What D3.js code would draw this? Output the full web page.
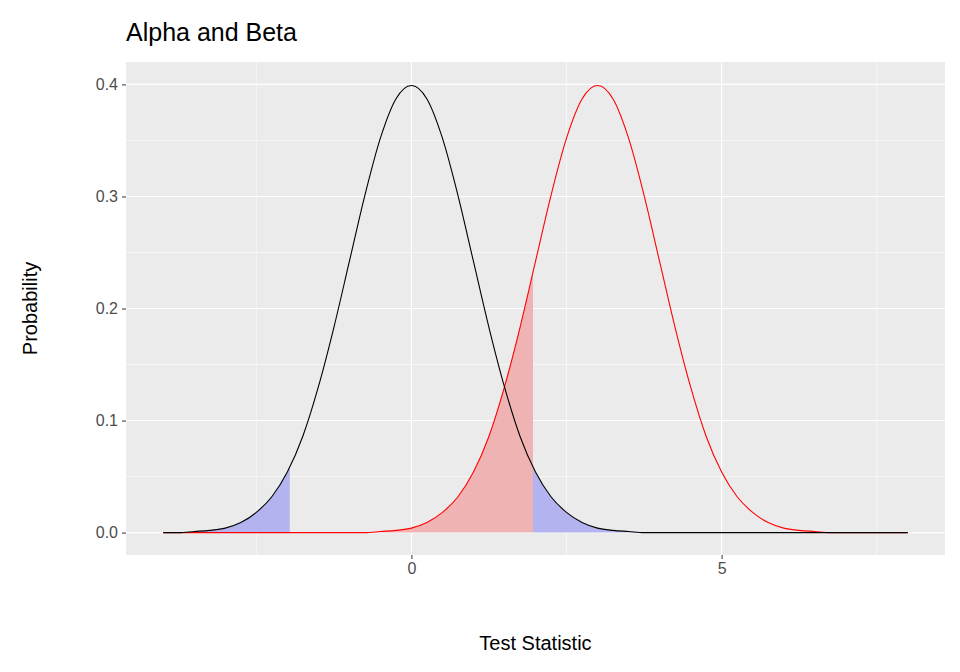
<!DOCTYPE html>
<html>
<head>
<meta charset="utf-8">
<script src="https://cdn.jsdelivr.net/npm/d3@7"></script>
<style>
  body { margin: 0; background: #fff; }
  text { font-family: "Liberation Sans", Arial, sans-serif; }
</style>
</head>
<body>
<svg id="svg" width="960" height="672"></svg>
<script>
// sample positions along the test statistic axis
const xs = d3.range(-4, 8.001, 0.25);

// null distribution (black)
const nullDensity = [
  0.000, 0.000, 0.001, 0.002, 0.004, 0.009, 0.018, 0.032, 0.054, 0.086, 0.130, 0.183, 0.242,
  0.301, 0.352, 0.387, 0.399, 0.387, 0.352, 0.301, 0.242, 0.183, 0.130, 0.086, 0.054,
  0.032, 0.018, 0.009, 0.004, 0.002, 0.001, 0.000, 0.000,
  0, 0, 0, 0, 0, 0, 0, 0, 0, 0, 0, 0, 0, 0, 0, 0
];

// alternative distribution (red)
const altDensity = [
  0, 0, 0, 0, 0, 0, 0, 0, 0, 0, 0, 0,
  0.000, 0.000, 0.001, 0.002, 0.004, 0.009, 0.018, 0.032, 0.054, 0.086, 0.130, 0.183, 0.242,
  0.301, 0.352, 0.387, 0.399, 0.387, 0.352, 0.301, 0.242, 0.183, 0.130, 0.086, 0.054,
  0.032, 0.018, 0.009, 0.004, 0.002, 0.001, 0.000, 0.000, 0, 0, 0, 0
];

const critical = 1.96;
const nullAtCritical = 0.058;
const altAtCritical = 0.232;

const xTicks = [0, 5];
const xMinor = [-2.5, 2.5, 7.5];
const yTicks = [0, 0.1, 0.2, 0.3, 0.4];
const yMinor = [0.05, 0.15, 0.25, 0.35];

const svg = d3.select('#svg');
const pLeft = 126, pRight = 945, pTop = 62, pBottom = 555;

const x = d3.scaleLinear().domain([-4.6, 8.6]).range([pLeft, pRight]);
const y = d3.scaleLinear().domain([-0.02, 0.42]).range([pBottom, pTop]);

svg.append("rect").attr("x", pLeft).attr("y", pTop)
  .attr("width", pRight - pLeft).attr("height", pBottom - pTop).attr("fill", "#EBEBEB");

const grid = svg.append("g").attr("stroke", "#fff");
xMinor.forEach(v => grid.append("line").attr("x1", x(v)).attr("x2", x(v))
  .attr("y1", pTop).attr("y2", pBottom).attr("stroke-width", 0.55));
yMinor.forEach(v => grid.append("line").attr("y1", y(v)).attr("y2", y(v))
  .attr("x1", pLeft).attr("x2", pRight).attr("stroke-width", 0.55));
xTicks.forEach(v => grid.append("line").attr("x1", x(v)).attr("x2", x(v))
  .attr("y1", pTop).attr("y2", pBottom).attr("stroke-width", 1.1));
yTicks.forEach(v => grid.append("line").attr("y1", y(v)).attr("y2", y(v))
  .attr("x1", pLeft).attr("x2", pRight).attr("stroke-width", 1.1));

const nullPts = xs.map((v, i) => [v, nullDensity[i]]);
const altPts = xs.map((v, i) => [v, altDensity[i]]);

const area = d3.area().x(d => x(d[0])).y0(y(0)).y1(d => y(d[1])).curve(d3.curveMonotoneX);
const line = d3.line().x(d => x(d[0])).y(d => y(d[1])).curve(d3.curveMonotoneX);

// beta region under alternative
const betaPts = altPts.filter(d => d[0] < critical).concat([[critical, altAtCritical]]);
svg.append("path").attr("d", area(betaPts)).attr("fill", "#F0B3B3");

// alpha tails under null
const leftTail = nullPts.filter(d => d[0] < -critical).concat([[-critical, nullAtCritical]]);
const rightTail = [[critical, nullAtCritical]].concat(nullPts.filter(d => d[0] > critical));
svg.append("path").attr("d", area(leftTail)).attr("fill", "#B3B3F0");
svg.append("path").attr("d", area(rightTail)).attr("fill", "#B3B3F0");

svg.append("path").attr("d", line(altPts)).attr("fill", "none").attr("stroke", "red").attr("stroke-width", 1.1);
svg.append("path").attr("d", line(nullPts)).attr("fill", "none").attr("stroke", "black").attr("stroke-width", 1.1);

// axes
const xAxis = svg.append("g").attr("transform", `translate(0,${pBottom})`)
  .call(d3.axisBottom(x).tickValues(xTicks).tickSize(4).tickPadding(4).tickFormat(d3.format("d")));
const yAxis = svg.append("g").attr("transform", `translate(${pLeft},0)`)
  .call(d3.axisLeft(y).tickValues(yTicks).tickSize(4).tickPadding(4).tickFormat(d3.format(".1f")));
[xAxis, yAxis].forEach(a => {
  a.select(".domain").remove();
  a.selectAll("line").attr("stroke", "#333");
  a.selectAll("text").attr("fill", "#4D4D4D").style("font-size", "16px")
    .style("font-family", "Liberation Sans, Arial, sans-serif");
});

svg.append("text").attr("x", 126).attr("y", 41).attr("font-size", 25).text("Alpha and Beta");
svg.append("text").attr("x", (pLeft + pRight) / 2).attr("y", 650).attr("text-anchor", "middle")
  .attr("font-size", 20).text("Test Statistic");
svg.append("text").attr("transform", `translate(37,${(pTop + pBottom) / 2}) rotate(-90)`)
  .attr("text-anchor", "middle").attr("font-size", 20).text("Probability");
</script>
</body>
</html>
